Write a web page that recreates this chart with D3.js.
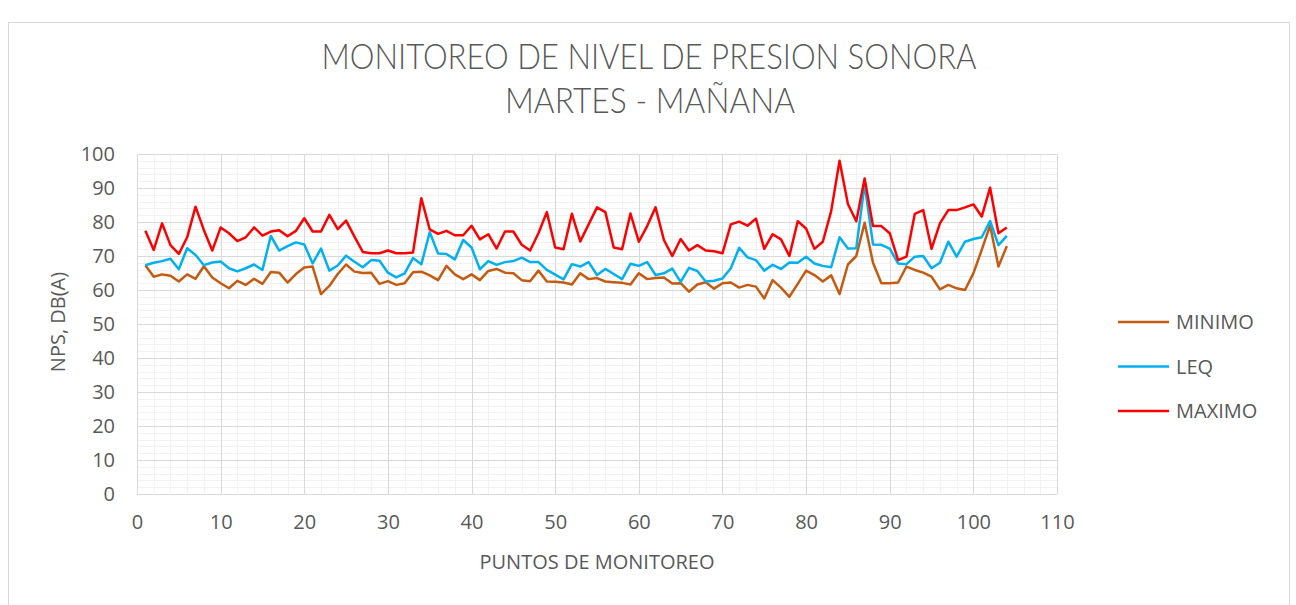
<!DOCTYPE html>
<html>
<head>
<meta charset="utf-8">
<script src="https://cdn.jsdelivr.net/npm/d3@7"></script>
<style>
  html, body { margin: 0; padding: 0; background: #fff; }
  svg { display: block; font-family: "Open Sans", sans-serif; }
</style>
</head>
<body>
<script>
  // Chart data
  const seriesNames = ['MINIMO', 'LEQ', 'MAXIMO'];
  const seriesColors = ['#C55A11', '#00B0F0', '#FF0000'];

  const minimo = [67.3, 63.9, 64.6, 64.2, 62.5, 64.6, 63.3, 67.0, 63.7, 62.0,
    60.5, 62.7, 61.5, 63.3, 61.8, 65.3, 65.1, 62.2, 64.7, 66.6,
    66.9, 58.8, 61.2, 64.7, 67.5, 65.4, 65.0, 65.1, 61.8, 62.6,
    61.5, 62.0, 65.2, 65.4, 64.3, 62.9, 67.1, 64.6, 63.2, 64.6,
    62.9, 65.6, 66.2, 65.1, 64.9, 62.9, 62.6, 65.7, 62.5, 62.4,
    62.2, 61.6, 64.9, 63.2, 63.5, 62.5, 62.3, 62.1, 61.6, 64.9,
    63.2, 63.5, 63.7, 61.9, 62.0, 59.5, 61.6, 62.3, 60.4, 62.0,
    62.2, 60.7, 61.5, 61.0, 57.5, 62.9, 60.7, 58.0, 61.8, 65.7,
    64.4, 62.5, 64.3, 58.8, 67.5, 70.0, 79.8, 68.0, 62.0, 62.0,
    62.2, 66.9, 65.9, 65.1, 63.9, 60.2, 61.5, 60.5, 60.0, 64.9,
    71.8, 79.0, 66.9, 72.9];

  const leq = [67.3, 68.0, 68.5, 69.2, 66.1, 72.3, 70.3, 67.3, 68.1, 68.4,
    66.4, 65.5, 66.4, 67.5, 65.9, 75.9, 71.6, 72.9, 74.0, 73.4,
    67.8, 72.2, 65.7, 67.2, 70.1, 68.3, 66.7, 68.8, 68.6, 65.1,
    63.7, 64.9, 69.4, 67.6, 77.0, 70.7, 70.6, 69.0, 74.7, 72.5,
    66.1, 68.5, 67.4, 68.2, 68.5, 69.5, 68.2, 68.2, 65.9, 64.5,
    63.1, 67.6, 66.9, 68.2, 64.4, 66.2, 64.7, 63.2, 67.7, 67.1,
    68.2, 64.4, 64.9, 66.3, 62.4, 66.5, 65.6, 62.5, 62.7, 63.4,
    66.4, 72.4, 69.6, 68.8, 65.7, 67.4, 66.2, 68.1, 68.0, 69.8,
    67.8, 67.1, 66.7, 75.5, 72.2, 72.3, 91.1, 73.4, 73.3, 72.2,
    67.8, 67.6, 69.8, 70.0, 66.4, 68.0, 74.2, 69.8, 74.2, 75.0,
    75.5, 80.3, 73.2, 75.9];

  const maximo = [77.4, 71.8, 79.6, 73.2, 70.6, 75.5, 84.5, 77.6, 71.6, 78.4,
    76.7, 74.4, 75.5, 78.4, 76.0, 77.2, 77.6, 75.8, 77.4, 81.1,
    77.2, 77.2, 82.1, 77.9, 80.4, 75.7, 71.2, 70.8, 70.8, 71.6,
    70.8, 70.8, 71.0, 87.0, 77.8, 76.5, 77.4, 76.1, 76.1, 78.9,
    74.9, 76.4, 72.2, 77.2, 77.2, 73.3, 71.6, 76.7, 82.9, 72.5,
    72.0, 82.4, 74.3, 79.3, 84.3, 82.9, 72.5, 72.0, 82.5, 74.2,
    78.8, 84.3, 74.7, 70.0, 75.0, 71.6, 73.2, 71.6, 71.4, 70.8,
    79.3, 80.1, 78.9, 81.0, 72.1, 76.4, 74.9, 70.0, 80.2, 78.1,
    72.1, 74.2, 83.2, 98.0, 85.3, 80.2, 92.8, 78.8, 78.8, 76.7,
    68.8, 69.8, 82.4, 83.5, 72.1, 79.6, 83.5, 83.5, 84.3, 85.2,
    81.6, 90.1, 76.7, 78.4];

  const xTicks = d3.range(0, 111, 10);
  const yTicks = d3.range(0, 101, 10);

  const W = 1296, H = 605;
  const margin = { top: 154, right: 239, bottom: 111, left: 137 };
  const width = W - margin.left - margin.right;
  const height = H - margin.top - margin.bottom;
  const textColor = '#595959';

  const svg = d3.select('body').append('svg')
    .attr('width', W)
    .attr('height', H);

  // outer chart frame
  svg.append('rect')
    .attr('x', 8.5).attr('y', 22.5)
    .attr('width', 1281).attr('height', 600)
    .attr('fill', '#fff')
    .attr('stroke', '#d9d9d9');

  const xScale = d3.scaleLinear().domain([0, 110]).range([0, width]);
  const yScale = d3.scaleLinear().domain([0, 100]).range([height, 0]);

  const chart = svg.append('g')
    .attr('transform', `translate(${margin.left},${margin.top})`);

  // minor gridlines every 2 units
  const minor = d3.range(0, 111, 2).filter((v) => v % 10 !== 0);
  const minorY = d3.range(0, 101, 2).filter((v) => v % 10 !== 0);
  chart.append('g').selectAll('line').data(minorY).join('line')
    .attr('x1', 0).attr('x2', width)
    .attr('y1', (d) => Math.round(yScale(d)) + 0.5)
    .attr('y2', (d) => Math.round(yScale(d)) + 0.5)
    .attr('stroke', '#f2f2f2');
  chart.append('g').selectAll('line').data(minor).join('line')
    .attr('y1', 0).attr('y2', height)
    .attr('x1', (d) => Math.round(xScale(d)) + 0.5)
    .attr('x2', (d) => Math.round(xScale(d)) + 0.5)
    .attr('stroke', '#f2f2f2');

  // major gridlines
  chart.append('g').selectAll('line').data(yTicks).join('line')
    .attr('x1', 0).attr('x2', width)
    .attr('y1', (d) => Math.round(yScale(d)) + 0.5)
    .attr('y2', (d) => Math.round(yScale(d)) + 0.5)
    .attr('stroke', '#d9d9d9');
  chart.append('g').selectAll('line').data(xTicks).join('line')
    .attr('y1', 0).attr('y2', height)
    .attr('x1', (d) => Math.round(xScale(d)) + 0.5)
    .attr('x2', (d) => Math.round(xScale(d)) + 0.5)
    .attr('stroke', '#d9d9d9');

  // axes (labels only, Excel style)
  const xAxis = chart.append('g')
    .attr('transform', `translate(0,${height})`)
    .call(d3.axisBottom(xScale).tickValues(xTicks).tickSize(0).tickPadding(21));
  const yAxis = chart.append('g')
    .call(d3.axisLeft(yScale).tickValues(yTicks).tickSize(0).tickPadding(22));
  [xAxis, yAxis].forEach((ax) => {
    ax.select('.domain').remove();
    ax.selectAll('text')
      .attr('fill', textColor)
      .style('font-family', '"Open Sans", sans-serif')
      .style('font-size', '20px');
  });

  // series lines
  const line = d3.line()
    .x((d, i) => xScale(i + 1))
    .y((d) => yScale(d));

  [minimo, leq, maximo].forEach((values, k) => {
    chart.append('path')
      .datum(values)
      .attr('fill', 'none')
      .attr('stroke', seriesColors[k])
      .attr('stroke-width', 2.5)
      .attr('stroke-linejoin', 'round')
      .attr('d', line);
  });

  // titles
  const title = svg.append('g').attr('fill', textColor)
    .style('font-family', 'Lato, "Open Sans", sans-serif')
    .style('font-weight', 300);
  title.append('text')
    .attr('x', 649).attr('y', 69)
    .attr('text-anchor', 'middle')
    .attr('font-size', 36)
    .attr('textLength', 655)
    .attr('lengthAdjust', 'spacingAndGlyphs')
    .text('MONITOREO DE NIVEL DE PRESION SONORA');
  title.append('text')
    .attr('x', 650).attr('y', 113)
    .attr('text-anchor', 'middle')
    .attr('font-size', 36)
    .attr('textLength', 290)
    .attr('lengthAdjust', 'spacingAndGlyphs')
    .text('MARTES - MAÑANA');

  svg.append('text')
    .attr('x', 597).attr('y', 569)
    .attr('text-anchor', 'middle')
    .attr('fill', textColor)
    .attr('font-size', 20)
    .text('PUNTOS DE MONITOREO');

  svg.append('text')
    .attr('transform', 'translate(65,322) rotate(-90)')
    .attr('text-anchor', 'middle')
    .attr('fill', textColor)
    .attr('font-size', 20)
    .text('NPS, DB(A)');

  // legend
  const legend = svg.append('g').attr('transform', 'translate(1118,322)');
  const item = legend.selectAll('g').data(seriesNames).join('g')
    .attr('transform', (d, i) => `translate(0,${i * 44.5})`);
  item.append('line')
    .attr('x1', 0).attr('x2', 51)
    .attr('stroke', (d, i) => seriesColors[i])
    .attr('stroke-width', 2.5);
  item.append('text')
    .attr('x', 58).attr('dy', '0.35em')
    .attr('fill', textColor)
    .attr('font-size', 20)
    .text((d) => d);
</script>
</body>
</html>
